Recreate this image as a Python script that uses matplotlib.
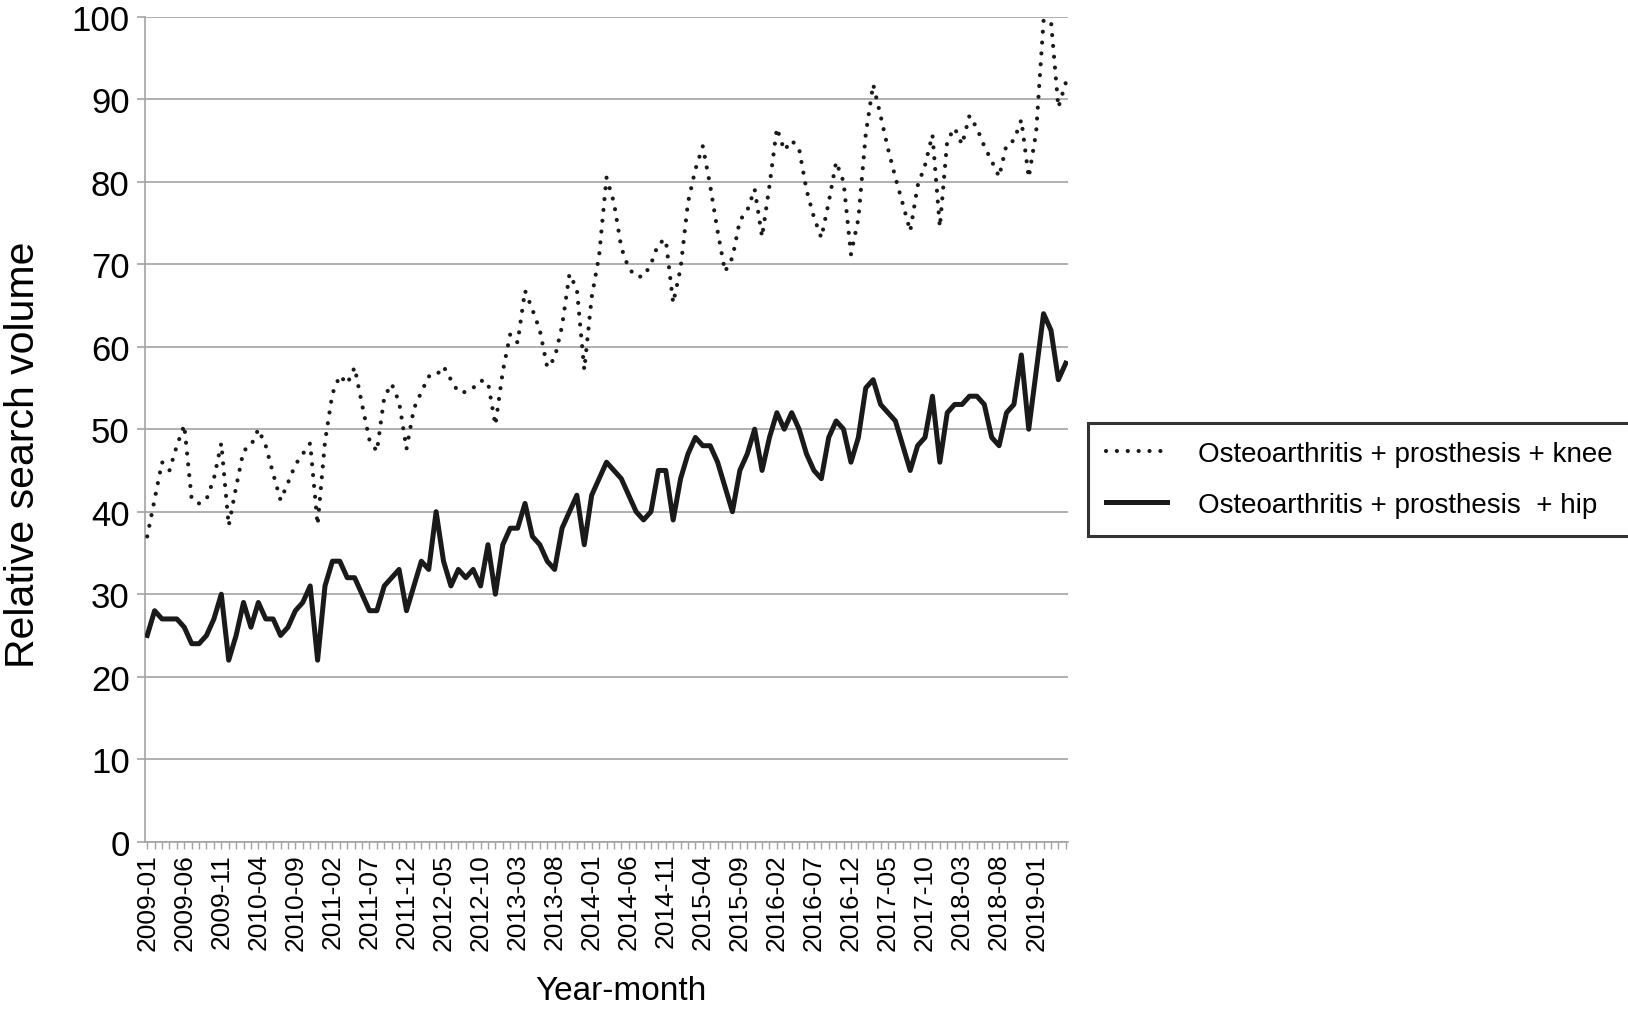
import matplotlib
matplotlib.use("Agg")
import matplotlib.pyplot as plt
from matplotlib.ticker import MultipleLocator

plt.rcParams['font.family'] = ['Liberation Sans', 'DejaVu Sans']

# Monthly data, 2009-01 .. 2019-05
start_year, start_month = 2009, 1
knee = [37, 41.5, 46, 45, 48, 50.5, 41.5, 41, 41.5, 44,
        48.3, 38.3, 43, 47.4, 48, 50, 48, 44.6, 41.4, 43.5,
        45.7, 47, 48.3, 38.4, 48.5, 54.3, 56.5, 55.5, 57.5, 53,
        48.7, 47.3, 53.9, 55.5, 53.3, 47.6, 52.5, 54.5, 56.4, 56.5,
        57.6, 56, 54.5, 54.5, 55, 55.9, 55.7, 50.5, 57, 61.5,
        60.5, 66.8, 64.5, 62, 57.5, 58.6, 62.5, 68.8, 67, 57.2,
        66, 71, 80.5, 77.5, 72, 69.5, 68.5, 68.5, 70, 72.5,
        73, 65.3, 69.5, 77.5, 81.5, 84.3, 79.5, 74, 69.1, 70.8,
        75.3, 76.5, 79.1, 73.3, 79.5, 86.5, 83.8, 85, 84, 79,
        75.7, 73.2, 77.5, 82.4, 80, 71.2, 75.5, 85.8, 91.8, 88,
        84, 80.5, 77.3, 74, 79.5, 82, 85.7, 74.5, 85,
        86.5, 84.5, 88, 86.5, 84.3, 82.5, 80.6, 84.5, 85, 87.5,
        80.5, 86, 99.5, 99.5, 89, 92]
hip = [25, 28, 27, 27, 27, 26, 24, 24, 25, 27,
       30, 22, 25, 29, 26, 29, 27, 27, 25, 26,
       28, 29, 31, 22, 31, 34, 34, 32, 32, 30,
       28, 28, 31, 32, 33, 28, 31, 34, 33, 40,
       34, 31, 33, 32, 33, 31, 36, 30, 36, 38,
       38, 41, 37, 36, 34, 33, 38, 40, 42, 36,
       42, 44, 46, 45, 44, 42, 40, 39, 40, 45,
       45, 39, 44, 47, 49, 48, 48, 46, 43, 40,
       45, 47, 50, 45, 49, 52, 50, 52, 50, 47,
       45, 44, 49, 51, 50, 46, 49, 55, 56, 53,
       52, 51, 48, 45, 48, 49, 54, 46, 52,
       53, 53, 54, 54, 53, 49, 48, 52, 53, 59,
       50, 57, 64, 62, 56, 58]
label_knee = "Osteoarthritis + prosthesis + knee"
label_hip = "Osteoarthritis + prosthesis  + hip"
yticks = list(range(0, 101, 10))

n = len(hip)
months = []
for k in range(n):
    y = start_year + (start_month - 1 + k) // 12
    m = (start_month - 1 + k) % 12 + 1
    months.append(f"{y}-{m:02d}")
x = list(range(n))
label_pos = x[::5]
label_txt = months[::5]

W, H = 1628, 1012
fig = plt.figure(figsize=(W / 100, H / 100), dpi=100)
ax = fig.add_axes([145 / W, (H - 842.7) / H, 923 / W, 825 / H])

grid_col = '#a3a3a3'
ln_knee, = ax.plot(x, knee, color='#1a1a1a', lw=3.0,
                   linestyle=(0, (0.01, 2.6)), dash_capstyle='round',
                   solid_joinstyle='round', label=label_knee, zorder=3)
ln_hip, = ax.plot(x, hip, color='#1a1a1a', lw=3.6, solid_joinstyle='round',
                  label=label_hip, zorder=3)

ax.set_xlim(-0.3, n - 1 + 0.3)
ax.set_ylim(0, 100)
ax.set_yticks(yticks)
ax.set_yticklabels([str(v) for v in yticks], fontsize=25)
ax.yaxis.grid(True, color=grid_col, lw=1.2)
ax.set_axisbelow(True)

ax.set_xticks(label_pos)
ax.set_xticklabels(label_txt, rotation=90, fontsize=19,
                   family=['Liberation Sans Narrow', 'Liberation Sans', 'DejaVu Sans'])
ax.xaxis.set_minor_locator(MultipleLocator(1))

for s in ['top', 'right']:
    ax.spines[s].set_visible(False)
for s in ['left', 'bottom']:
    ax.spines[s].set_color(grid_col)
    ax.spines[s].set_linewidth(1.2)
ax.tick_params(axis='y', length=6, width=1.2, color=grid_col, pad=5)
ax.tick_params(axis='x', which='both', length=5, width=1, color=grid_col, pad=3)

fig.text(23 / W, 1 - 455 / H, "Relative search volume", rotation=90,
         fontsize=29.5, ha='center', va='center')
fig.text(621 / W, 1 - 992 / H, "Year-month", fontsize=24,
         ha='center', va='center')

leg = fig.legend(handles=[ln_knee, ln_hip], loc='upper left',
                 bbox_to_anchor=(1088 / W, 1 - 424 / H), borderaxespad=0,
                 fontsize=20, frameon=True, fancybox=False, handlelength=2.2,
                 handletextpad=1.1, borderpad=0.65, labelspacing=0.9)
leg.get_frame().set_edgecolor('black')
leg.get_frame().set_linewidth(2.2)

fig.savefig("out.png", dpi=100)
